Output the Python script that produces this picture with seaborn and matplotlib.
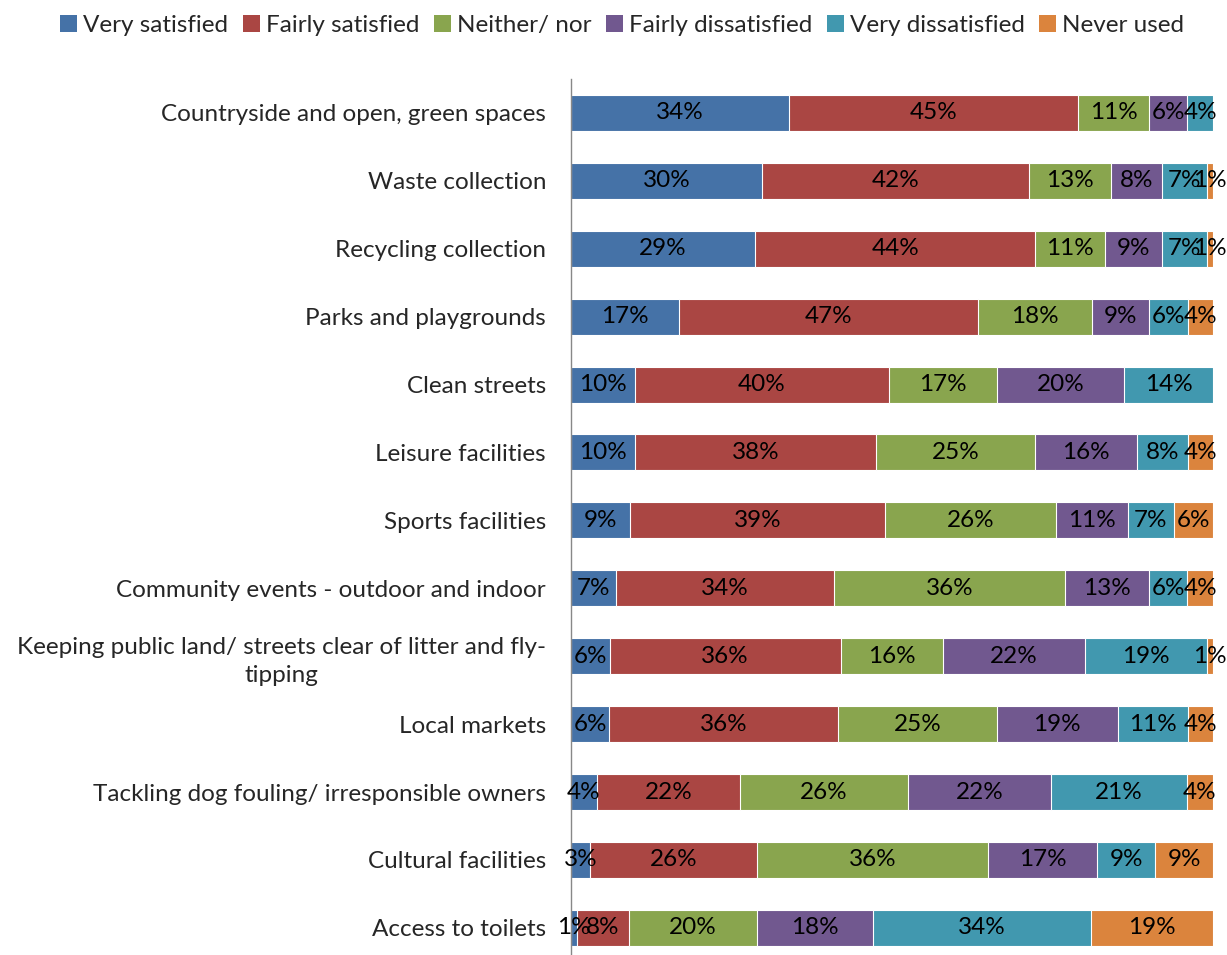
import numpy as np
import pandas as pd
import matplotlib
matplotlib.use("Agg")
import matplotlib.pyplot as plt
from matplotlib.patches import Patch
import seaborn as sns

categories = [
    "Countryside and open, green spaces",
    "Waste collection",
    "Recycling collection",
    "Parks and playgrounds",
    "Clean streets",
    "Leisure facilities",
    "Sports facilities",
    "Community events - outdoor and indoor",
    "Keeping public land/ streets clear of litter and fly-\ntipping",
    "Local markets",
    "Tackling dog fouling/ irresponsible owners",
    "Cultural facilities",
    "Access to toilets",
]
series_names = ["Very satisfied", "Fairly satisfied", "Neither/ nor",
                "Fairly dissatisfied", "Very dissatisfied", "Never used"]
very_satisfied = [34, 30, 29, 17, 10, 10, 9, 7, 6, 6, 4, 3, 1]
fairly_satisfied = [45, 42, 44, 47, 40, 38, 39, 34, 36, 36, 22, 26, 8]
neither_nor = [11, 13, 11, 18, 17, 25, 26, 36, 16, 25, 26, 36, 20]
fairly_dissatisfied = [6, 8, 9, 9, 20, 16, 11, 13, 22, 19, 22, 17, 18]
very_dissatisfied = [4, 7, 7, 6, 14, 8, 7, 6, 19, 11, 21, 9, 34]
never_used = [0, 1, 1, 4, 0, 4, 6, 4, 1, 4, 4, 9, 19]
colors = ["#4572A7", "#AA4643", "#89A54E", "#71588F", "#4198AF", "#DB843D"]

sns.set_theme(style="white")
plt.rcParams["font.family"] = ["Lato", "DejaVu Sans"]
FS = 17.5

vals = np.array([very_satisfied, fairly_satisfied, neither_nor,
                 fairly_dissatisfied, very_dissatisfied, never_used], dtype=float)
totals = vals.sum(axis=0)
shares = vals / totals * 100.0
cum = np.cumsum(shares, axis=0)

fig = plt.figure(figsize=(12.27, 9.55), dpi=100)
ax = fig.add_axes([571 / 1227, 0.0, 642 / 1227, (955 - 79) / 955])

df = pd.DataFrame({"category": categories})
for i in range(len(series_names) - 1, -1, -1):
    df["cum"] = cum[i]
    sns.barplot(data=df, x="cum", y="category", orient="h", color=colors[i],
                width=0.53, edgecolor="white", linewidth=0.8, saturation=1,
                ax=ax, order=categories)

for i in range(len(series_names)):
    for j in range(len(categories)):
        v = vals[i, j]
        if v <= 0:
            continue
        center = cum[i, j] - shares[i, j] / 2
        ax.text(center, j, f"{int(v)}%", ha="center", va="center",
                fontsize=FS, color="black")

ax.set_xlim(0, 100)
ax.set_ylim(12.4, -0.5)
ax.set_xlabel("")
ax.set_ylabel("")
ax.set_xticks([])
ax.tick_params(axis="y", length=0, pad=18, labelsize=FS)
for lbl in ax.get_yticklabels():
    lbl.set_multialignment("center")
    lbl.set_linespacing(1.4)
for s in ["top", "right", "bottom"]:
    ax.spines[s].set_visible(False)
ax.spines["left"].set_color("#888888")
ax.spines["left"].set_linewidth(1.0)

handles = [Patch(facecolor=c, edgecolor="none") for c in colors]
fig.legend(handles, series_names, loc="center", bbox_to_anchor=(0.507, 0.973),
           ncol=6, frameon=False, fontsize=FS, handlelength=0.7, handleheight=0.7,
           handletextpad=0.25, columnspacing=0.6)

fig.savefig("out.png", dpi=100)
